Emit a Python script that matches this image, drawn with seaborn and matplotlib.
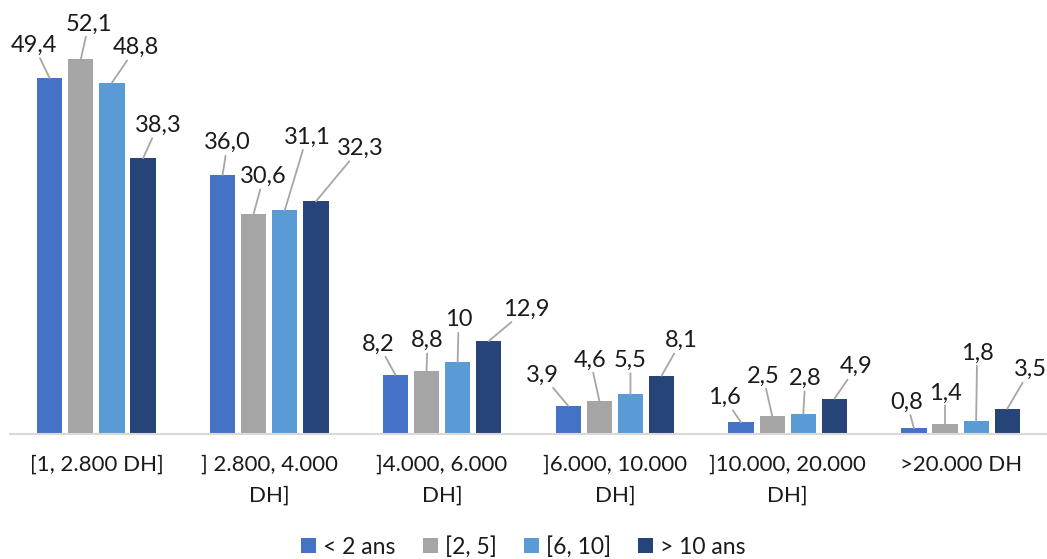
import matplotlib
matplotlib.use("Agg")
import matplotlib.pyplot as plt
import seaborn as sns
import pandas as pd

# ---- data ----
categories = ["[1, 2.800 DH]", "] 2.800, 4.000\nDH]", "]4.000, 6.000\nDH]",
              "]6.000, 10.000\nDH]", "]10.000, 20.000\nDH]", ">20.000 DH"]
series = ["< 2 ans", "[2, 5]", "[6, 10]", "> 10 ans"]
lt2 = [49.4, 36.0, 8.2, 3.9, 1.6, 0.8]
s2_5 = [52.1, 30.6, 8.8, 4.6, 2.5, 1.4]
s6_10 = [48.8, 31.1, 10, 5.5, 2.8, 1.8]
gt10 = [38.3, 32.3, 12.9, 8.1, 4.9, 3.5]
labels = [["49,4", "36,0", "8,2", "3,9", "1,6", "0,8"],
          ["52,1", "30,6", "8,8", "4,6", "2,5", "1,4"],
          ["48,8", "31,1", "10", "5,5", "2,8", "1,8"],
          ["38,3", "32,3", "12,9", "8,1", "4,9", "3,5"]]

# label offsets (pixels, from bar top centre) -- layout only
offsets = [[(-16, 33), (5, 32), (-17, 31), (-26, 31), (-17, 25), (-7, 26)],
           [(8, 35), (10, 37), (1, 30), (-9, 41), (-9, 40), (0, 31)],
           [(24, 35), (22, 73), (1, 42), (0, 34), (2, 35), (1, 68)],
           [(15, 33), (44, 53), (38, 32), (20, 35), (22, 32), (23, 39)]]

colors = ["#4472C4", "#A5A5A5", "#5B9BD5", "#264478"]

rows = []
for s, vals in zip(series, [lt2, s2_5, s6_10, gt10]):
    for c, v in zip(categories, vals):
        rows.append({"cat": c, "serie": s, "val": v})
df = pd.DataFrame(rows)

sns.set_theme(style="white")
plt.rcParams["font.family"] = ["Lato", "DejaVu Sans"]
TXT = "#1a1a1a"

fig = plt.figure(figsize=(10.47, 5.59), dpi=100)
ax = fig.add_axes([10 / 1047, 1 - 434 / 559, 1037 / 1047, 432 / 559])

sns.barplot(data=df, x="cat", y="val", hue="serie", order=categories,
            hue_order=series, palette=colors, width=0.72, gap=0.19,
            linewidth=0, saturation=1, ax=ax, legend=True)

ax.set_xlim(-0.5, 5.5)
ax.set_ylim(0, 60)
ax.set_xlabel("")
ax.set_ylabel("")
ax.set_yticks([])
for sp in ["top", "left", "right"]:
    ax.spines[sp].set_visible(False)
ax.spines["bottom"].set_color("#D9D9D9")
ax.spines["bottom"].set_linewidth(1.5)
ax.tick_params(axis="x", length=0, pad=15, labelsize=16, colors=TXT)
for t in ax.get_xticklabels():
    t.set_linespacing(1.7)

for si, cont in enumerate(ax.containers):
    for ci, bar in enumerate(cont):
        x = bar.get_x() + bar.get_width() / 2
        y = bar.get_height()
        dx, dy = offsets[si][ci]
        ax.annotate(labels[si][ci], xy=(x, y), xytext=(dx, dy),
                    textcoords="offset pixels", ha="center", va="center",
                    fontsize=17, color=TXT,
                    bbox=dict(boxstyle="square,pad=0.1", fc="none", ec="none"),
                    arrowprops=dict(arrowstyle="-", color="#A6A6A6", lw=1.3,
                                    shrinkA=0, shrinkB=0),
                    annotation_clip=False)

leg = ax.legend(loc="center", bbox_to_anchor=(0.5, 1 - 547 / 559),
                bbox_transform=fig.transFigure, ncol=4, frameon=False,
                fontsize=16.5, handlelength=0.65, handleheight=0.65,
                handletextpad=0.3, columnspacing=1.2, labelcolor=TXT)

fig.savefig("out.png", dpi=100)
